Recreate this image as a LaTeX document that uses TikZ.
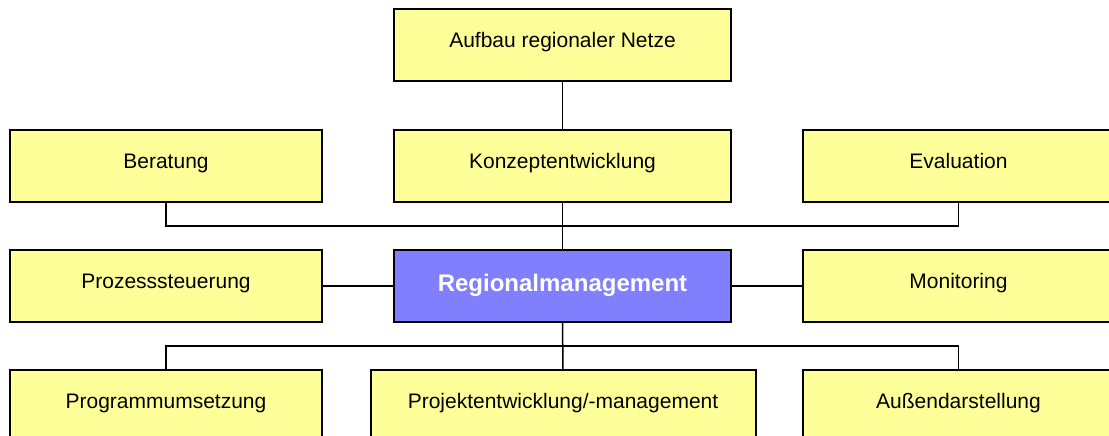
\documentclass[tikz,border=0pt]{standalone}
\usepackage{fontspec}
\setmainfont{Liberation Sans}
\usepackage{tikz}
\usetikzlibrary{positioning}

\definecolor{boxyellow}{HTML}{FFFF99}
\definecolor{boxblue}{HTML}{8080FF}

\begin{document}
\begin{tikzpicture}[x=1pt,y=-1pt,line width=1.5pt]
		\tikzstyle{task}=[draw,line width=2pt,fill=boxyellow,minimum width=312pt,minimum height=72pt,inner sep=0pt,text height=15pt,text depth=11pt,font=\fontsize{21}{25}\selectfont]
		\tikzstyle{wide}=[task,minimum width=337pt]
		\tikzstyle{core}=[wide,fill=boxblue,text=white,text height=17.5pt,text depth=7.3pt,font=\fontsize{24}{28}\selectfont\bfseries]

		\clip (0,0) rectangle (1109,436);

		\node[wide] (aufbau) at (562.5,45.5) {Aufbau regionaler Netze};
		\node[task] (beratung) at (166,166) {Beratung};
		\node[wide] (konzept) at (562.5,166) {Konzeptentwicklung};
		\node[task] (eval) at (958.5,166) {Evaluation};
		\node[task] (prozess) at (166,286) {Prozesssteuerung};
		\node[core] (rm) at (562.5,286) {Regionalmanagement};
		\node[task] (monitor) at (958.5,286) {Monitoring};
		\node[task] (programm) at (166,406) {Programmumsetzung};
		\node[task,minimum width=385pt] (projekt) at (563,406) {Projektentwicklung/-management};
		\node[task] (aussen) at (958.5,406) {Außendarstellung};

		\coordinate (bustop) at (562.5,226);
		\coordinate (busbot) at (562.5,346);

		\draw (aufbau) -- (konzept);
		\draw (beratung.south) |- (bustop) -| (eval.south);
		\draw (konzept) -- (rm);
		\draw (prozess) -- (rm) -- (monitor);
		\draw (rm) -- (projekt);
		\draw (programm.north) |- (busbot) -| (aussen.north);
	\end{tikzpicture}
\end{document}
